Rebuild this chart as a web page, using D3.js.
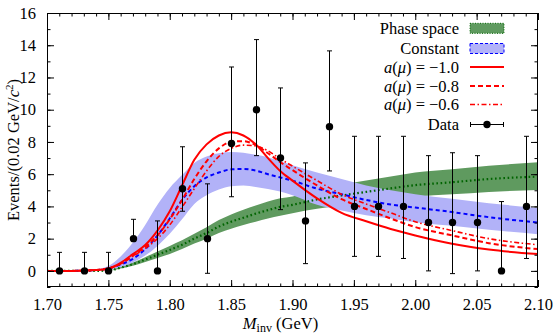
<!DOCTYPE html>
<html><head><meta charset="utf-8">
<script src="https://cdn.jsdelivr.net/npm/d3@7"></script>
<style>
body{margin:0;background:#fff;}
text{font-family:"Liberation Serif","DejaVu Serif",serif;}
</style></head>
<body><svg id="c" width="557" height="336"></svg>
<script>
// curve sample positions (GeV)
const xs = [1.70,1.72,1.74,1.75,1.76,1.77,1.78,1.79,1.80,1.81,1.82,1.83,1.84,1.85,1.86,1.87,1.88,1.89,1.90,1.92,1.94,1.96,1.98,2.00,2.03,2.06,2.10];
const red10 = [0,0,0.05,0.15,0.5,1.04,1.6,2.5,3.7,5.3,6.9,7.85,8.4,8.6,8.4,7.85,7.0,6.2,5.6,4.5,3.6,3.08,2.6,2.2,1.68,1.32,1.04];
const red08 = [0,0,0.05,0.15,0.45,0.95,1.5,2.2,3.2,4.4,5.7,6.8,7.6,8.0,8.05,7.8,7.3,6.75,6.25,5.3,4.45,3.84,3.25,2.72,2.2,1.72,1.35];
const red06 = [0,0,0.05,0.15,0.42,0.9,1.4,2.0,2.85,3.95,5.1,6.2,7.1,7.6,7.8,7.75,7.45,6.95,6.5,5.6,4.75,4.15,3.6,3.05,2.5,2.0,1.62];
const constMid = [0,0,0.05,0.15,0.4,0.75,1.35,2.2,3.25,4.4,5.25,5.8,6.1,6.3,6.32,6.22,6.0,5.8,5.6,5.1,4.75,4.4,4.12,3.93,3.65,3.33,3.0];
const constHi = [0,0,0.1,0.3,0.9,1.76,2.85,4.1,5.15,5.95,6.7,7.1,7.3,7.37,7.33,7.2,7.05,6.8,6.55,6.1,5.7,5.3,5.0,4.75,4.47,4.2,3.9];
const constLo = [0,0,0.02,0.08,0.22,0.52,0.95,1.55,2.3,3.2,4.15,4.7,5.05,5.25,5.3,5.2,5.08,4.92,4.7,4.1,3.75,3.45,3.25,3.02,2.8,2.55,2.28];
const psMid = [0,0,0,0.02,0.2,0.42,0.7,1.0,1.3,1.62,2.0,2.35,2.75,3.05,3.3,3.55,3.77,3.97,4.1,4.43,4.68,4.9,5.12,5.32,5.5,5.7,5.85];
const psHi = [0,0,0,0.03,0.25,0.52,0.85,1.2,1.55,1.9,2.3,2.7,3.15,3.5,3.8,4.05,4.3,4.5,4.62,5.05,5.35,5.6,5.85,6.1,6.3,6.52,6.74];
const psLo = [0,0,0,0.01,0.15,0.32,0.55,0.8,1.05,1.35,1.7,2.0,2.35,2.62,2.85,3.05,3.25,3.42,3.58,3.85,4.05,4.25,4.42,4.6,4.75,4.9,5.02];

// data points
const dataX = [1.71,1.73,1.75,1.77,1.79,1.81,1.83,1.85,1.87,1.89,1.91,1.93,1.95,1.97,1.99,2.01,2.03,2.05,2.07,2.09];
const dataY = [0,0,0,2,0,5.1,2,7.9,10,7,3.1,8.95,4,4,4,3,3,3,0,4];
const dataHi = [1.15,1.15,1.15,3.2,3.1,7.7,5.4,12.65,14.35,11.35,6.7,13.65,8.35,8.35,8.35,7.15,7.33,7.15,4.3,8.35];
const dataLo = [0,0,0,1.85,0,3.7,-0.15,4.6,7.15,3.8,0.45,6.2,0.9,0.9,0.77,0,-0.17,0,0,0.77];

const xTicks = [1.70,1.75,1.80,1.85,1.90,1.95,2.00,2.05,2.10];
const yTicks = [0,2,4,6,8,10,12,14,16];
const legendLabels = ["Phase space","Constant","a(μ) = −1.0","a(μ) = −0.8","a(μ) = −0.6","Data"];

const svg = d3.select("#c");
const L=47,R=538,T=13,B=287;
const FS = 16.5;
const x = d3.scaleLinear().domain([1.70,2.10]).range([L,R]);
const y = d3.scaleLinear().domain([-1,16]).range([B,T]);

svg.append("clipPath").attr("id","pc").append("rect").attr("x",L).attr("y",T).attr("width",R-L).attr("height",B-T);
const g = svg.append("g").attr("clip-path","url(#pc)");

const crv = d3.curveMonotoneX;
const area = (lo,hi)=>d3.area().x((d,i)=>x(xs[i])).y0((d,i)=>y(lo[i])).y1((d,i)=>y(hi[i])).curve(crv);
const line = arr=>d3.line().x((d,i)=>x(xs[i])).y((d,i)=>y(arr[i])).curve(crv);

g.append("path").datum(xs).attr("d",area(psLo,psHi)).attr("fill","#5f9a5f");
g.append("path").datum(xs).attr("d",area(constLo,constHi)).attr("fill","#b2b2f8");
g.append("path").datum(xs).attr("d",line(psMid)).attr("fill","none").attr("stroke","#006400").attr("stroke-width",2.2).attr("stroke-dasharray","1.6,2.6");
g.append("path").datum(xs).attr("d",line(constMid)).attr("fill","none").attr("stroke","#0000ff").attr("stroke-width",2).attr("stroke-dasharray","4,3");
g.append("path").datum(xs).attr("d",line(red06)).attr("fill","none").attr("stroke","#ff0000").attr("stroke-width",1.6).attr("stroke-dasharray","5,2.5,1.5,2.5");
g.append("path").datum(xs).attr("d",line(red08)).attr("fill","none").attr("stroke","#ff0000").attr("stroke-width",2).attr("stroke-dasharray","5,3");
g.append("path").datum(xs).attr("d",line(red10)).attr("fill","none").attr("stroke","#ff0000").attr("stroke-width",2);

// error bars + points
const pts = g.append("g");
dataX.forEach((xv,i)=>{
  const px = Math.round(x(xv))+0.5;
  pts.append("line").attr("x1",px).attr("x2",px).attr("y1",y(dataHi[i])).attr("y2",y(dataLo[i])).attr("stroke","#000").attr("stroke-width",1);
  pts.append("line").attr("x1",px-2.5).attr("x2",px+2.5).attr("y1",y(dataHi[i])).attr("y2",y(dataHi[i])).attr("stroke","#000").attr("stroke-width",1);
  if (dataLo[i] < dataY[i]) pts.append("line").attr("x1",px-2.5).attr("x2",px+2.5).attr("y1",y(dataLo[i])).attr("y2",y(dataLo[i])).attr("stroke","#000").attr("stroke-width",1);
  pts.append("circle").attr("cx",px).attr("cy",y(dataY[i])).attr("r",3.7).attr("fill","#000");
});

// axes
const ax = svg.append("g");
const mkAxis=(axisFn,scale,vals,size,fmt)=>axisFn(scale).tickValues(vals).tickSizeInner(size).tickSizeOuter(0).tickFormat(fmt);
const xMinor = d3.range(170,211).map(v=>v/100);
const yMinor = d3.range(-1,17);
ax.append("g").attr("transform",`translate(0,${B})`).call(mkAxis(d3.axisBottom,x,xMinor,-3.5,()=>""));
ax.append("g").attr("transform",`translate(0,${B})`).call(mkAxis(d3.axisBottom,x,xTicks,-7,d3.format(".2f")).tickPadding(11));
ax.append("g").attr("transform",`translate(0,${T})`).call(mkAxis(d3.axisTop,x,xMinor,-3.5,()=>""));
ax.append("g").attr("transform",`translate(0,${T})`).call(mkAxis(d3.axisTop,x,xTicks,-7,()=>""));
ax.append("g").attr("transform",`translate(${L},0)`).call(mkAxis(d3.axisLeft,y,yMinor,-3.5,()=>""));
ax.append("g").attr("transform",`translate(${L},0)`).call(mkAxis(d3.axisLeft,y,yTicks,-7,d3.format("d")).tickPadding(11));
ax.append("g").attr("transform",`translate(${R},0)`).call(mkAxis(d3.axisRight,y,yMinor,-3.5,()=>""));
ax.append("g").attr("transform",`translate(${R},0)`).call(mkAxis(d3.axisRight,y,yTicks,-7,()=>""));
ax.selectAll(".domain").remove();
ax.selectAll("text").attr("font-size",FS).attr("fill","#000").attr("font-family","Liberation Serif");
ax.selectAll("line").attr("stroke","#000");
svg.append("rect").attr("x",L+0.5).attr("y",T+0.5).attr("width",R-L-1).attr("height",B-T-1).attr("fill","none").attr("stroke","#000").attr("stroke-width",1);

// axis titles
const xt = svg.append("text").attr("x",(L+R)/2-12).attr("y",329).attr("text-anchor","middle").attr("font-size",FS);
xt.append("tspan").attr("font-style","italic").text("M");
xt.append("tspan").attr("font-size",12).attr("dy",3).text("inv");
xt.append("tspan").attr("dy",-3).text(" (GeV)");
const yt = svg.append("text").attr("transform",`translate(19,${(T+B)/2}) rotate(-90)`).attr("text-anchor","middle").attr("font-size",FS);
yt.append("tspan").text("Events/(0.02 GeV/");
yt.append("tspan").attr("font-style","italic").text("c");
yt.append("tspan").attr("font-size",11).attr("dy",-6).text("2");
yt.append("tspan").attr("dy",6).text(")");

// legend
const lg = svg.append("g");
const rowY = [28.3,48.5,67,86,104.5,124.3];
const tx = 459, sx0 = 470, sx1 = 504;
legendLabels.forEach((lab,i)=>{
  const t = lg.append("text").attr("x",tx).attr("y",rowY[i]+5.5).attr("text-anchor","end").attr("font-size",FS);
  if (lab.startsWith("a(")) {
    t.append("tspan").attr("font-style","italic").text("a");
    t.append("tspan").text("(");
    t.append("tspan").attr("font-style","italic").text("μ");
    t.append("tspan").text(lab.slice(3));
  } else t.text(lab);
});
lg.append("rect").attr("x",sx0).attr("y",rowY[0]-5).attr("width",sx1-sx0).attr("height",10).attr("fill","#5f9a5f").attr("stroke","#006400").attr("stroke-width",1).attr("stroke-dasharray","1,1.5");
lg.append("rect").attr("x",sx0).attr("y",rowY[1]-5).attr("width",sx1-sx0).attr("height",10).attr("fill","#b2b2f8").attr("stroke","#0000ff").attr("stroke-width",1).attr("stroke-dasharray","3,2");
lg.append("line").attr("x1",sx0).attr("x2",sx1).attr("y1",rowY[2]).attr("y2",rowY[2]).attr("stroke","#ff0000").attr("stroke-width",2);
lg.append("line").attr("x1",sx0).attr("x2",sx1).attr("y1",rowY[3]).attr("y2",rowY[3]).attr("stroke","#ff0000").attr("stroke-width",2).attr("stroke-dasharray","5,3");
lg.append("line").attr("x1",sx0).attr("x2",sx1).attr("y1",rowY[4]).attr("y2",rowY[4]).attr("stroke","#ff0000").attr("stroke-width",1.6).attr("stroke-dasharray","5,2.5,1.5,2.5");
const dy = Math.round(rowY[5])+0.5;
lg.append("line").attr("x1",sx0).attr("x2",sx1).attr("y1",dy).attr("y2",dy).attr("stroke","#000");
lg.append("line").attr("x1",sx0+0.5).attr("x2",sx0+0.5).attr("y1",dy-2.5).attr("y2",dy+2.5).attr("stroke","#000");
lg.append("line").attr("x1",sx1-0.5).attr("x2",sx1-0.5).attr("y1",dy-2.5).attr("y2",dy+2.5).attr("stroke","#000");
lg.append("circle").attr("cx",(sx0+sx1)/2).attr("cy",dy).attr("r",3.7).attr("fill","#000");
</script></body></html>
